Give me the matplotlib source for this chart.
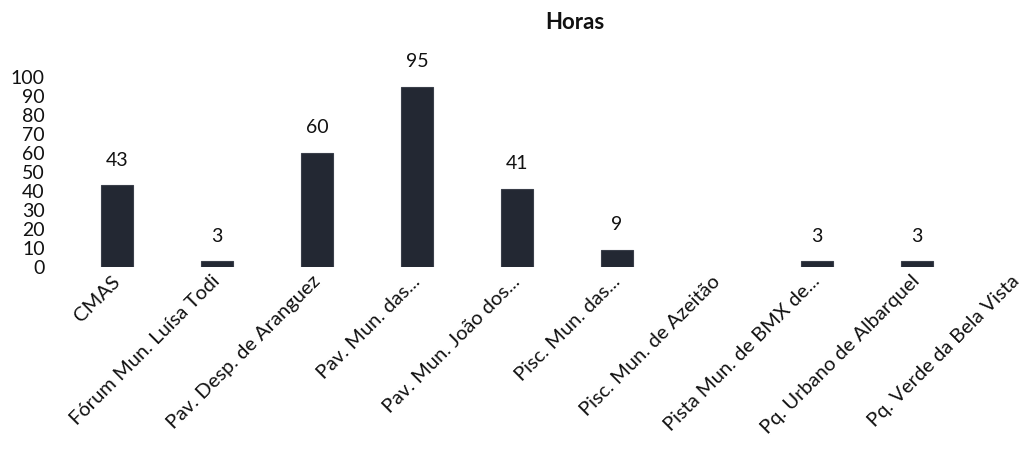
import matplotlib.pyplot as plt
import matplotlib.transforms as mtransforms

# data
locais = ["CMAS", "Fórum Mun. Luísa Todi", "Pav. Desp. de Aranguez",
          "Pav. Mun. das...", "Pav. Mun. João dos...", "Pisc. Mun. das...",
          "Pisc. Mun. de Azeitão", "Pista Mun. de BMX de...",
          "Pq. Urbano de Albarquel", "Pq. Verde da Bela Vista"]
horas = [43, 3, 60, 95, 41, 9, 0, 3, 3, 0]
yticks = [0, 10, 20, 30, 40, 50, 60, 70, 80, 90, 100]

plt.rcParams['font.family'] = ['Lato', 'DejaVu Sans']

fig = plt.figure(figsize=(10.24, 4.5), dpi=100)
ax = fig.add_axes([67/1024, 183/450, 957/1024, 190/450])

x = list(range(len(locais)))
bars = ax.bar(x, horas, width=0.32, color='#232833', edgecolor='#3a3f4a', linewidth=0.8)
# no sliver for the empty ones
for b, v in zip(bars, horas):
    if v == 0:
        b.set_linewidth(0)

# value labels, zeros are left blank like in the original
for i, v in enumerate(horas):
    if v > 0:
        ax.annotate(str(v), (i, v), xytext=(0, 12), textcoords='offset points',
                    ha='center', va='bottom', fontsize=14, color='#111111',
                    annotation_clip=False)

ax.set_xlim(-0.5, 9.07)
ax.set_ylim(0, 100)
ax.set_yticks(yticks)
ax.set_yticklabels([str(t) for t in yticks], fontsize=14)
ax.set_xticks(x)
ax.set_xticklabels(locais, rotation=45, ha='right', rotation_mode='anchor', fontsize=14.5)
ax.tick_params(axis='both', length=0, colors='#111111')
ax.tick_params(axis='y', pad=16)
ax.tick_params(axis='x', pad=4)
shift = mtransforms.ScaledTranslation(-6/100, 0, fig.dpi_scale_trans)
for lab in ax.get_xticklabels():
    lab.set_transform(lab.get_transform() + shift)
for s in ax.spines.values():
    s.set_visible(False)

fig.text(0.5615, 0.95, "Horas", ha='center', va='center', fontsize=16,
         fontweight='bold', color='#111111')

fig.savefig("out.png", dpi=100)
